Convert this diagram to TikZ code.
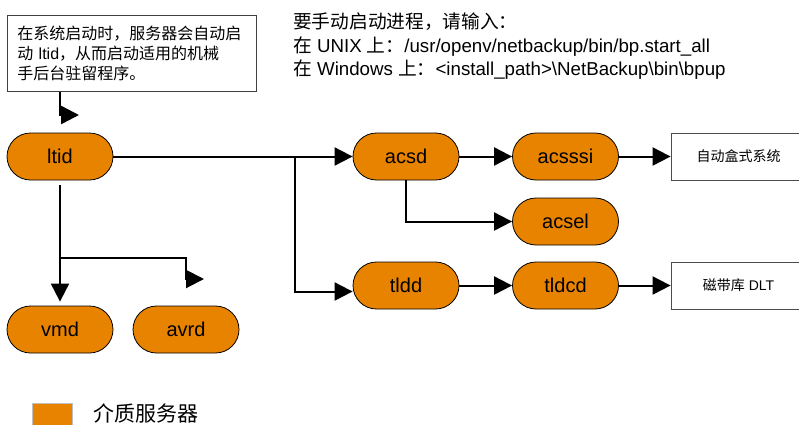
\documentclass[tikz,border=0pt]{standalone}
\usepackage{fontspec}
\setmainfont{Liberation Sans}
\newfontfamily\cjk{Noto Sans CJK SC}
\usetikzlibrary{arrows.meta,calc}
\newcommand\zhtext[1]{{\cjk #1}}
\definecolor{mediaorange}{RGB}{232,131,0}
\begin{document}
\begin{tikzpicture}[x=1pt,y=-1pt,
  proc/.style={draw=black, line width=0.8pt, fill=mediaorange, rounded corners=23.5pt,
    minimum width=106pt, minimum height=47pt, inner sep=0pt,
    font=\fontsize{20}{24}\selectfont},
  dev/.style={draw=black!70, line width=0.8pt, fill=white, minimum width=135pt,
    minimum height=47pt, inner sep=0pt, font=\fontsize{14}{17}\selectfont},
  link/.style={line width=2pt, -{Triangle[length=18pt,width=18pt]}},
  howtofont/.style={font=\fontsize{18.7}{22}\selectfont}]
\useasboundingbox (0,0) rectangle (799,424);
\clip (0,0) rectangle (799,424);

% daemon processes
\node[proc] (ltid)   at (60,156.5)  {ltid};
\node[proc] (vmd)    at (60,329.5)  {vmd};
\node[proc] (avrd)   at (186,329.5) {avrd};
\node[proc] (acsd)   at (406,156.5) {acsd};
\node[proc] (acsssi) at (565.5,156.5) {acsssi};
\node[proc] (acsel)  at (565.5,221.5) {acsel};
\node[proc] (tldd)   at (406,285.5) {tldd};
\node[proc] (tldcd)  at (565.5,285.5) {tldcd};

% robotic devices
\node[dev] (robot) at (738.5,156.5) {\zhtext{自动盒式系统}};
\node[dev] (dlt)   at (738.5,285.5) {\zhtext{磁带库} DLT};

% startup note
\node[draw=black!75, line width=0.8pt, anchor=north west, minimum width=249pt,
  minimum height=76pt, text width=229pt, inner xsep=10pt, align=left,
  font=\fontsize{16}{20}\selectfont] (note) at (7,15)
  {\zhtext{在系统启动时，服务器会自动启}\\
   \zhtext{动} ltid\zhtext{，从而启动适用的机械}\\
   \zhtext{手后台驻留程序。}};

% manual start instructions
\node[howtofont, anchor=base west, inner sep=0pt] (howto1) at (293,28.5)
  {\zhtext{要手动启动进程，请输入：}};
\node[howtofont, anchor=base west, inner sep=0pt] (howto2) at (293,52)
  {\zhtext{在} UNIX \zhtext{上：}/usr/openv/netbackup/bin/bp.start\_all};
\node[howtofont, anchor=base west, inner sep=0pt] (howto3) at (293,75.5)
  {\zhtext{在} Windows \zhtext{上：}<install\_path>\textbackslash NetBackup\textbackslash bin\textbackslash bpup};

% connectors
\coordinate (notetip) at (79,115);
\draw[link, line width=2.5pt] (note.south -| ltid.north) |- (notetip);

\draw[link] (ltid.east) -- (acsd.west);
\coordinate (split) at (295,156.5);
\draw[link] (split) |- ([yshift=-6pt]tldd.west);
\draw[link] (acsd.east) -- (acsssi.west);
\draw[link] (acsssi.east) -- (robot.west);
\draw[link] (acsd.south) |- (acsel.west);
\draw[link] (tldd.east) -- (tldcd.west);
\draw[link] (tldcd.east) -- (dlt.west);

\draw[link] ([yshift=-5pt]ltid.south) -- ([yshift=4pt]vmd.north);
\coordinate (fork) at (60,258);
\coordinate (avrdbend) at (186,279);
\coordinate (avrdtip) at (204,279);
\draw[link] (fork) -| (avrdbend) -- (avrdtip);

% legend
\node[draw=black!25, fill=mediaorange, minimum width=40pt, minimum height=26pt,
  anchor=north west, inner sep=0pt] (key) at (32,403) {};
\node[anchor=west, inner sep=0pt, font=\fontsize{21}{24}\selectfont] (keylabel)
  at (93,413) {\zhtext{介质服务器}};
\end{tikzpicture}
\end{document}
